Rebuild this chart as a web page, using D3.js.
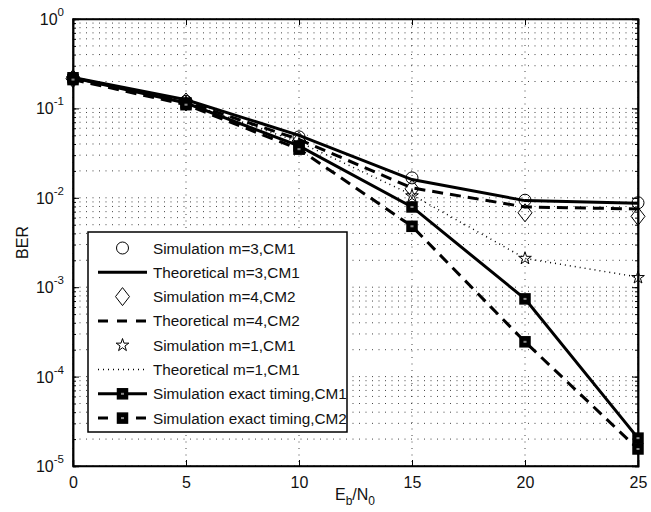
<!DOCTYPE html>
<html>
<head>
<meta charset="utf-8">
<script src="https://cdn.jsdelivr.net/npm/d3@7"></script>
<style>
  body { margin: 0; background: #fff; }
  text { font-family: "Liberation Sans", Arial, sans-serif; }
</style>
</head>
<body>
<script>
// Eb/N0 values (dB)
var snr = [0, 5, 10, 15, 20, 25];

// BER values
var simM3CM1 = [0.219, 0.12, 0.048, 0.0167, 0.0094, 0.0088];
var theoM3CM1 = [0.222, 0.125, 0.05, 0.016, 0.0093, 0.0087];
var simM4CM2 = [0.215, 0.118, 0.043, 0.0126, 0.0068, 0.0062];
var theoM4CM2 = [0.218, 0.118, 0.045, 0.0129, 0.0079, 0.0075];
var simM1CM1 = [0.215, 0.117, 0.04, 0.0105, 0.0021, 0.00128];
var theoM1CM1 = [0.215, 0.117, 0.042, 0.0108, 0.0021, 0.0013];
var exactCM1 = [0.22, 0.115, 0.038, 0.0079, 0.00074, 0.0000205];
var exactCM2 = [0.21, 0.11, 0.035, 0.0048, 0.000245, 0.0000155];

var xTicks = [0, 5, 10, 15, 20, 25];
var yDecades = [0, -1, -2, -3, -4, -5];

var legendLabels = [
  "Simulation m=3,CM1",
  "Theoretical m=3,CM1",
  "Simulation m=4,CM2",
  "Theoretical m=4,CM2",
  "Simulation m=1,CM1",
  "Theoretical m=1,CM1",
  "Simulation exact timing,CM1",
  "Simulation exact timing,CM2"
];

var W = 651, H = 512;
var pL = 73, pR = 638, pT = 19, pB = 466;

var svg = d3.select("body").append("svg").attr("width", W).attr("height", H);

var x = d3.scaleLinear().domain([0, 25]).range([pL, pR]);
var y = d3.scaleLog().domain([1e-5, 1]).range([pB, pT]);

// grid
var minorVals = [];
for (var e = -5; e < 0; e++)
  for (var k = 1; k <= 9; k++) minorVals.push(k * Math.pow(10, e));
minorVals.push(1);
var majorVals = yDecades.map(function(d) { return Math.pow(10, d); });

var grid = svg.append("g");
grid.selectAll("line.hg").data(minorVals).enter().append("line")
  .attr("x1", pL).attr("x2", pR)
  .attr("y1", function(d) { return y(d); }).attr("y2", function(d) { return y(d); })
  .attr("stroke", "#444").attr("stroke-width", 1).attr("stroke-dasharray", "1,5.5");
grid.selectAll("line.vg").data(xTicks).enter().append("line")
  .attr("y1", pT).attr("y2", pB)
  .attr("x1", function(d) { return x(d); }).attr("x2", function(d) { return x(d); })
  .attr("stroke", "#444").attr("stroke-width", 1).attr("stroke-dasharray", "1,5.5");

// axes with inward ticks
svg.append("g").attr("transform", "translate(0," + pB + ")")
  .call(d3.axisBottom(x).tickValues(xTicks).tickSize(-6).tickPadding(11).tickFormat(d3.format("d")));
svg.append("g").attr("transform", "translate(0," + pT + ")")
  .call(d3.axisTop(x).tickValues(xTicks).tickSize(-6).tickFormat(""));

svg.append("g").attr("transform", "translate(" + pL + ",0)")
  .call(d3.axisLeft(y).tickValues(minorVals).tickSize(-3).tickFormat(""));
svg.append("g").attr("transform", "translate(" + pR + ",0)")
  .call(d3.axisRight(y).tickValues(minorVals).tickSize(-3).tickFormat(""));
svg.append("g").attr("transform", "translate(" + pR + ",0)")
  .call(d3.axisRight(y).tickValues(majorVals).tickSize(-6).tickFormat(""));
svg.append("g").attr("transform", "translate(" + pL + ",0)")
  .call(d3.axisLeft(y).tickValues(majorVals).tickSize(-6).tickFormat(""));

svg.selectAll(".domain").attr("stroke", "#000").attr("stroke-width", 1.5);
svg.selectAll(".tick line").attr("stroke", "#000");
svg.selectAll(".tick text").attr("font-size", 16).attr("fill", "#111")
  .attr("font-family", "Liberation Sans, Arial, sans-serif");

// y tick labels with superscript exponent
yDecades.forEach(function(e) {
  var t = svg.append("text")
    .attr("x", pL - 9).attr("y", y(Math.pow(10, e)) + 6)
    .attr("text-anchor", "end").attr("font-size", 16).attr("fill", "#111");
  t.append("tspan").text("10");
  t.append("tspan").attr("dy", -9).attr("font-size", 11.5).text(e);
});

// frame
svg.append("rect").attr("x", pL).attr("y", pT)
  .attr("width", pR - pL).attr("height", pB - pT)
  .attr("fill", "none").attr("stroke", "#000").attr("stroke-width", 1.5);

// axis labels
svg.append("text").attr("transform", "translate(28," + ((pT + pB) / 2) + ") rotate(-90)")
  .attr("text-anchor", "middle").attr("font-size", 16).attr("fill", "#111").text("BER");
var xl = svg.append("text").attr("x", 355).attr("y", 500)
  .attr("text-anchor", "middle").attr("font-size", 16).attr("fill", "#111");
xl.append("tspan").text("E");
xl.append("tspan").attr("dy", 5).attr("font-size", 12).text("b");
xl.append("tspan").attr("dy", -5).text("/N");
xl.append("tspan").attr("dy", 5).attr("font-size", 12).text("0");

// series
var series = [
  { data: simM3CM1, line: null, marker: "circle" },
  { data: theoM3CM1, line: { w: 3, dash: null }, marker: null },
  { data: simM4CM2, line: null, marker: "diamond" },
  { data: theoM4CM2, line: { w: 3, dash: "11,7" }, marker: null },
  { data: simM1CM1, line: null, marker: "star" },
  { data: theoM1CM1, line: { w: 1.5, dash: "1,4" }, marker: null },
  { data: exactCM1, line: { w: 3, dash: null }, marker: "square" },
  { data: exactCM2, line: { w: 3, dash: "11,7" }, marker: "square" }
];

var lineGen = d3.line().x(function(d, i) { return x(snr[i]); }).y(function(d) { return y(d); });

function drawMarker(g, type, cx, cy) {
  if (type == "circle") {
    g.append("circle").attr("cx", cx).attr("cy", cy).attr("r", 6)
      .attr("fill", "none").attr("stroke", "#000").attr("stroke-width", 1);
  } else if (type == "diamond") {
    g.append("path").attr("d", "M" + cx + "," + (cy - 9) + "L" + (cx + 7) + "," + cy + "L" + cx + "," + (cy + 9) + "L" + (cx - 7) + "," + cy + "Z")
      .attr("fill", "none").attr("stroke", "#000").attr("stroke-width", 1);
  } else if (type == "star") {
    g.append("path").attr("d", d3.symbol().type(d3.symbolStar).size(50)())
      .attr("transform", "translate(" + cx + "," + cy + ")")
      .attr("fill", "none").attr("stroke", "#000").attr("stroke-width", 1);
  } else if (type == "square") {
    g.append("rect").attr("x", cx - 5).attr("y", cy - 5).attr("width", 10).attr("height", 10)
      .attr("fill", "#000").attr("stroke", "#000").attr("stroke-width", 1.5);
    g.append("rect").attr("x", cx - 1.5).attr("y", cy - 1).attr("width", 3).attr("height", 2)
      .attr("fill", "#888");
  }
}

var plot = svg.append("g");
series.forEach(function(s) {
  if (s.line) {
    plot.append("path").datum(s.data).attr("d", lineGen)
      .attr("fill", "none").attr("stroke", "#000").attr("stroke-width", s.line.w)
      .attr("stroke-dasharray", s.line.dash);
  }
  if (s.marker) {
    s.data.forEach(function(v, i) { drawMarker(plot, s.marker, x(snr[i]), y(v)); });
  }
});

// legend
var lg = svg.append("g");
lg.append("rect").attr("x", 88).attr("y", 232).attr("width", 259).attr("height", 200)
  .attr("fill", "#fff").attr("stroke", "#000").attr("stroke-width", 1.5);
legendLabels.forEach(function(lab, i) {
  var ly = 248 + i * 24.3;
  var s = series[i];
  if (s.line) {
    var dash = s.line.dash == "11,7" ? "10,9" : s.line.dash;
    lg.append("line").attr("x1", 98).attr("x2", 147).attr("y1", ly).attr("y2", ly)
      .attr("stroke", "#000").attr("stroke-width", s.line.w).attr("stroke-dasharray", dash);
  }
  if (s.marker) drawMarker(lg, s.marker, 122.5, ly);
  lg.append("text").attr("x", 153).attr("y", ly + 5.5).attr("font-size", 15.3).attr("fill", "#111").text(lab);
});
</script>
</body>
</html>
